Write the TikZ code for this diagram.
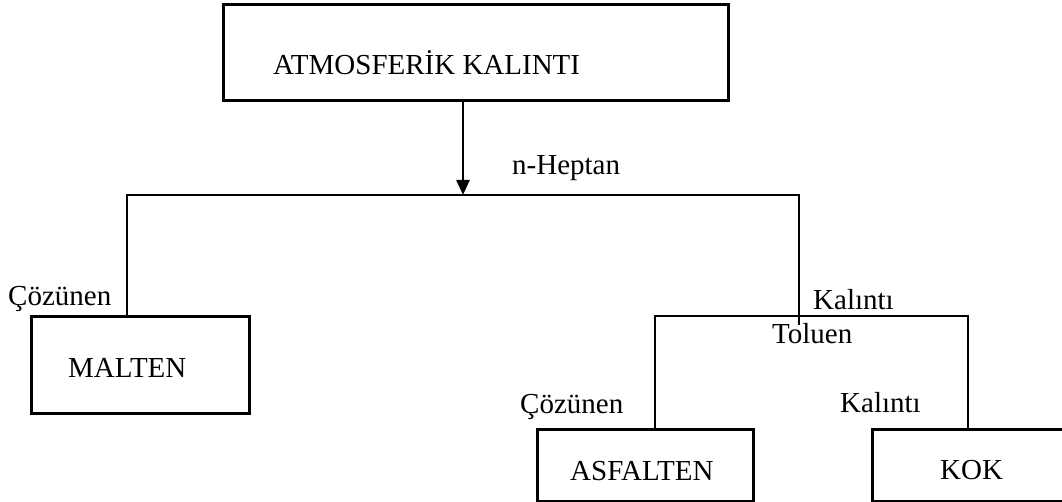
\documentclass[tikz,border=0pt]{standalone}
\usepackage{fontspec}
\setmainfont{Liberation Serif}
\usetikzlibrary{arrows.meta}
\begin{document}
\begin{tikzpicture}[x=1pt,y=-1pt,
  box/.style={draw=black,line width=3pt,minimum width=#1,inner sep=0pt,anchor=north west},
  txt/.style={inner sep=0pt,anchor=base west,font=\fontsize{29}{34}\selectfont},
  conn/.style={draw=black,line width=2.5pt},
  arr/.style={conn,-{Triangle[length=15pt,width=13pt]}}]
\useasboundingbox (0,0) rectangle (1062,502);
\clip (0,0) rectangle (1062,502);
% boxes
\node[box=505pt,minimum height=96pt] (top) at (222,3) {};
\node[box=218pt,minimum height=97pt] (malten) at (30,315) {};
\node[box=216pt,minimum height=72pt] (asf) at (536,428) {};
\node[box=220pt,minimum height=72pt] (kok) at (871,428) {};
% box texts
\node[txt] (ttop) at (273,75) {ATMOSFER\.{I}K KALINTI};
\node[txt] (tmal) at (68,377) {MALTEN};
\node[txt] (tasf) at (570,480) {ASFALTEN};
\node[txt] (tkok) at (940,479) {KOK};
% labels
\node[txt] (hep) at (512,175) {n-Heptan};
\node[txt] (coz1) at (8,306) {Çözünen};
\node[txt] (kal1) at (813,309) {Kalıntı};
\node[txt] (tol) at (772,343) {Toluen};
\node[txt] (coz2) at (520,413) {Çözünen};
\node[txt] (kal2) at (840,412) {Kalıntı};
% junction coordinates
\coordinate (j1) at (463,195);
\coordinate (l1) at (127,195);
\coordinate (r1) at (799,195);
\coordinate (e1) at (799,325);
\coordinate (l2) at (655,316);
\coordinate (r2) at (968,316);
% connectors
\draw[arr] (top.south -| j1) -- (j1);
\draw[conn] (malten.north -| l1) -- (l1) -- (r1) -- (e1);
\draw[conn] (asf.north -| l2) -- (l2) -- (r2) -- (kok.north -| r2);
\end{tikzpicture}
\end{document}
